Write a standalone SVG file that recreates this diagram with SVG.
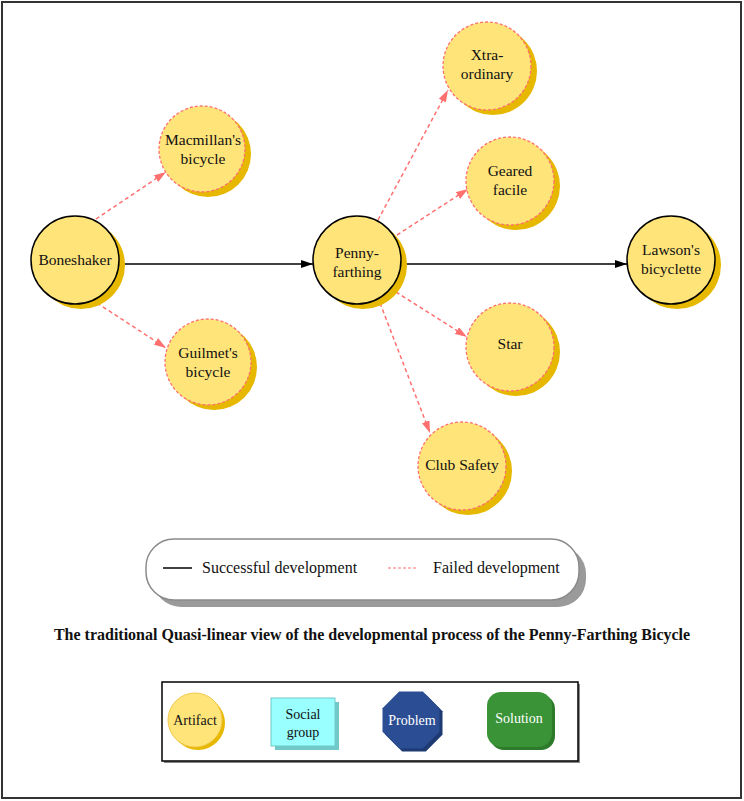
<svg xmlns="http://www.w3.org/2000/svg" width="744" height="801" viewBox="0 0 744 801">
<defs>
<style>
.t{font-family:"Liberation Serif","Times New Roman",serif;fill:#111;}
.nt{font-size:15.5px;text-anchor:middle;}
.sh{fill:#E6B800;}
.ok{fill:#FFE47A;stroke:#000;stroke-width:1.5;}
.fail{fill:#FFE47A;stroke:#FF7070;stroke-width:1.3;stroke-dasharray:3,2;}
.good{stroke:#000;stroke-width:1.5;fill:none;}
.bad{stroke:#FF7070;stroke-width:1.5;stroke-dasharray:4,3;fill:none;}
</style>
<marker id="ab" viewBox="0 0 12 8" refX="12" refY="4" markerWidth="12" markerHeight="8" markerUnits="userSpaceOnUse" orient="auto">
<path d="M0,0 L12,4 L0,8 Z" fill="#000"/>
</marker>
<marker id="ar" viewBox="0 0 12 8" refX="12" refY="4" markerWidth="12" markerHeight="8" markerUnits="userSpaceOnUse" orient="auto">
<path d="M0,0 L12,4 L0,8 Z" fill="#FF7070"/>
</marker>
</defs>
<rect x="0" y="0" width="744" height="801" fill="#fff"/>
<rect x="2" y="2" width="739" height="796" fill="none" stroke="#333" stroke-width="2"/>

<g id="connectors">
<line class="good" x1="122" y1="264" x2="313" y2="264" marker-end="url(#ab)"/>
<line class="good" x1="406" y1="264" x2="627" y2="264" marker-end="url(#ab)"/>
<line class="bad" x1="96" y1="219" x2="166" y2="172" marker-end="url(#ar)"/>
<line class="bad" x1="97" y1="303" x2="166" y2="348" marker-end="url(#ar)"/>
<line class="bad" x1="378" y1="220" x2="448" y2="90" marker-end="url(#ar)"/>
<line class="bad" x1="397" y1="235" x2="468" y2="189" marker-end="url(#ar)"/>
<line class="bad" x1="396" y1="292" x2="467" y2="337" marker-end="url(#ar)"/>
<line class="bad" x1="380" y1="303" x2="430" y2="433" marker-end="url(#ar)"/>
</g>

<g id="boneshaker">
<circle class="sh" cx="81" cy="265" r="44"/>
<circle class="ok" cx="75" cy="260" r="44"/>
<text class="t nt" x="75" y="265">Boneshaker</text>
</g>
<g id="macmillan">
<circle class="sh" cx="208" cy="154" r="43"/>
<circle class="fail" cx="202" cy="149" r="43"/>
<text class="t nt" x="203" y="145">Macmillan's</text>
<text class="t nt" x="203" y="164">bicycle</text>
</g>
<g id="guilmet">
<circle class="sh" cx="214" cy="367" r="43"/>
<circle class="fail" cx="208" cy="362" r="43"/>
<text class="t nt" x="208" y="358">Guilmet's</text>
<text class="t nt" x="208" y="377">bicycle</text>
</g>
<g id="penny">
<circle class="sh" cx="363" cy="265" r="44"/>
<circle class="ok" cx="357" cy="260" r="44"/>
<text class="t nt" x="357" y="258">Penny-</text>
<text class="t nt" x="357" y="277">farthing</text>
</g>
<g id="xtra">
<circle class="sh" cx="493" cy="71" r="44"/>
<circle class="fail" cx="487" cy="66" r="44"/>
<text class="t nt" x="487" y="60">Xtra-</text>
<text class="t nt" x="487" y="79">ordinary</text>
</g>
<g id="geared">
<circle class="sh" cx="516" cy="186" r="44"/>
<circle class="fail" cx="510" cy="181" r="44"/>
<text class="t nt" x="510" y="176">Geared</text>
<text class="t nt" x="510" y="195">facile</text>
</g>
<g id="lawson">
<circle class="sh" cx="677" cy="265" r="44"/>
<circle class="ok" cx="671" cy="260" r="44"/>
<text class="t nt" x="671" y="255">Lawson's</text>
<text class="t nt" x="671" y="274">bicyclette</text>
</g>
<g id="star">
<circle class="sh" cx="516" cy="352" r="44"/>
<circle class="fail" cx="510" cy="347" r="44"/>
<text class="t nt" x="510" y="349">Star</text>
</g>
<g id="clubsafety">
<circle class="sh" cx="468" cy="471" r="44"/>
<circle class="fail" cx="462" cy="466" r="44"/>
<text class="t nt" x="462" y="470">Club Safety</text>
</g>

<g id="legend">
<rect x="153" y="546" width="433" height="61" rx="28" fill="#9A9A9A"/>
<rect x="146" y="539" width="433" height="61" rx="28" fill="#fff" stroke="#8A8A8A" stroke-width="1.5"/>
<line x1="163" y1="568" x2="192" y2="568" stroke="#000" stroke-width="1.5"/>
<text class="t" x="202" y="573" font-size="16">Successful development</text>
<line x1="388" y1="568" x2="418" y2="568" stroke="#FF7070" stroke-width="1.2" stroke-dasharray="3,2"/>
<text class="t" x="433" y="573" font-size="16">Failed development</text>
</g>

<text class="t" x="372" y="640" font-size="16" font-weight="bold" text-anchor="middle">The traditional Quasi-linear view of the developmental process of the Penny-Farthing Bicycle</text>

<g id="key">
<rect x="164" y="684" width="416" height="79" fill="#888"/>
<rect x="162" y="682" width="416" height="79" fill="#fff" stroke="#000" stroke-width="1.5"/>
<g id="key-artifact">
<circle cx="198" cy="723" r="27" fill="#E6B800"/>
<circle cx="195" cy="720" r="27" fill="#FFE47A" stroke="#F2C94C" stroke-width="1"/>
<text class="t" x="195" y="725" font-size="14" text-anchor="middle">Artifact</text>
</g>
<g id="key-social">
<rect x="275" y="702" width="64" height="48" fill="#70C8C8"/>
<rect x="271" y="698" width="64" height="48" fill="#99FFFF" stroke="#70C8C8" stroke-width="1"/>
<text class="t" x="303" y="719" font-size="14" text-anchor="middle">Social</text>
<text class="t" x="303" y="737" font-size="14" text-anchor="middle">group</text>
</g>
<g id="key-problem">
<polygon points="402.2,694.5 425.8,694.5 442.5,711.2 442.5,734.8 425.8,751.5 402.2,751.5 385.5,734.8 385.5,711.2" fill="#1E3A73"/>
<polygon points="399.2,691.5 422.8,691.5 439.5,708.2 439.5,731.8 422.8,748.5 399.2,748.5 382.5,731.8 382.5,708.2" fill="#2B4D94"/>
<text x="412" y="725" font-size="14" text-anchor="middle" font-family="Liberation Serif, serif" fill="#fff">Problem</text>
</g>
<g id="key-solution">
<rect x="490" y="695" width="65" height="55" rx="14" fill="#2C7A2A"/>
<rect x="487" y="692" width="65" height="55" rx="14" fill="#3A9337"/>
<text x="519" y="723" font-size="14" text-anchor="middle" font-family="Liberation Serif, serif" fill="#fff">Solution</text>
</g>
</g>
</svg>
